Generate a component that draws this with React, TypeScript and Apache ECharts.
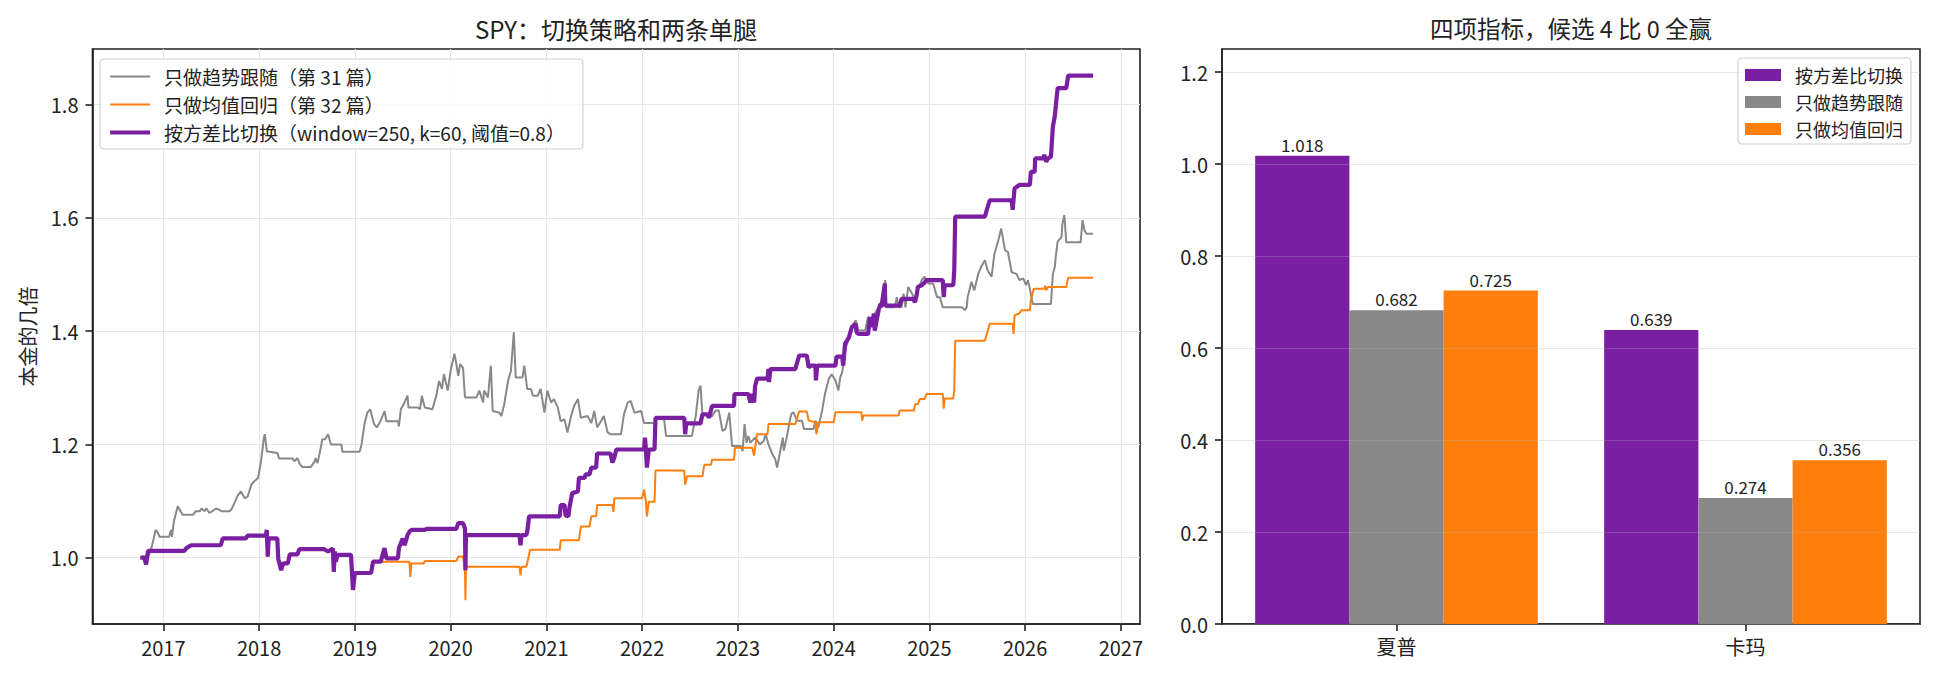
import React, { useEffect, useRef } from 'react';
import * as echarts from 'echarts';

const FONT = '"Noto Sans CJK SC", "Noto Sans", sans-serif';

// 左图：三条净值曲线 [年份, 本金倍数]
const trendCurve: [number, number][] = [
  [2016.76, 1.0], [2016.85, 1.005], [2016.88, 1.02], [2016.92, 1.049], [2016.94, 1.045], [2016.96, 1.037],
  [2017.06, 1.037], [2017.08, 1.049], [2017.09, 1.037], [2017.11, 1.064], [2017.15, 1.091], [2017.18, 1.082],
  [2017.2, 1.076], [2017.31, 1.076], [2017.34, 1.082], [2017.38, 1.082], [2017.4, 1.087], [2017.43, 1.082],
  [2017.45, 1.087], [2017.48, 1.079], [2017.51, 1.082], [2017.55, 1.087], [2017.58, 1.085], [2017.61, 1.082],
  [2017.69, 1.082], [2017.71, 1.085], [2017.74, 1.096], [2017.78, 1.111], [2017.81, 1.117], [2017.85, 1.105],
  [2017.88, 1.108], [2017.92, 1.129], [2017.95, 1.135], [2017.99, 1.141], [2018.02, 1.17], [2018.05, 1.212],
  [2018.06, 1.218], [2018.08, 1.188], [2018.19, 1.185], [2018.21, 1.175], [2018.35, 1.175], [2018.37, 1.17],
  [2018.4, 1.176], [2018.42, 1.167], [2018.45, 1.16], [2018.54, 1.16], [2018.58, 1.17], [2018.59, 1.176],
  [2018.61, 1.167], [2018.63, 1.182], [2018.66, 1.209], [2018.69, 1.209], [2018.72, 1.218], [2018.75, 1.2],
  [2018.86, 1.2], [2018.87, 1.187], [2019.05, 1.187], [2019.07, 1.2], [2019.1, 1.236], [2019.13, 1.256],
  [2019.16, 1.262], [2019.2, 1.236], [2019.23, 1.23], [2019.27, 1.242], [2019.31, 1.259], [2019.33, 1.241],
  [2019.45, 1.241], [2019.46, 1.232], [2019.48, 1.262], [2019.51, 1.271], [2019.55, 1.286], [2019.56, 1.265],
  [2019.66, 1.265], [2019.68, 1.262], [2019.7, 1.286], [2019.73, 1.265], [2019.81, 1.262], [2019.85, 1.286],
  [2019.88, 1.312], [2019.91, 1.298], [2019.93, 1.324], [2019.97, 1.295], [2020.0, 1.33], [2020.04, 1.36],
  [2020.06, 1.342], [2020.08, 1.321], [2020.1, 1.342], [2020.13, 1.335], [2020.15, 1.283], [2020.27, 1.283],
  [2020.3, 1.295], [2020.34, 1.274], [2020.35, 1.295], [2020.39, 1.283], [2020.42, 1.339], [2020.44, 1.259],
  [2020.51, 1.256], [2020.53, 1.25], [2020.56, 1.271], [2020.6, 1.312], [2020.63, 1.33], [2020.66, 1.398],
  [2020.68, 1.318], [2020.75, 1.318], [2020.77, 1.339], [2020.8, 1.298], [2020.84, 1.298], [2020.86, 1.286],
  [2020.91, 1.286], [2020.94, 1.298], [2020.98, 1.256], [2021.01, 1.295], [2021.05, 1.274], [2021.08, 1.28],
  [2021.12, 1.265], [2021.15, 1.241], [2021.19, 1.244], [2021.22, 1.221], [2021.26, 1.251], [2021.29, 1.268],
  [2021.33, 1.28], [2021.36, 1.247], [2021.43, 1.25], [2021.47, 1.238], [2021.5, 1.259], [2021.53, 1.23],
  [2021.57, 1.241], [2021.6, 1.25], [2021.64, 1.221], [2021.67, 1.218], [2021.78, 1.218], [2021.81, 1.253],
  [2021.85, 1.274], [2021.88, 1.277], [2021.92, 1.256], [2021.99, 1.259], [2022.02, 1.238], [2022.13, 1.238],
  [2022.16, 1.247], [2022.23, 1.244], [2022.25, 1.215], [2022.52, 1.215], [2022.56, 1.25], [2022.59, 1.295],
  [2022.61, 1.304], [2022.63, 1.253], [2022.68, 1.253], [2022.73, 1.25], [2022.77, 1.26], [2022.8, 1.26],
  [2022.84, 1.224], [2022.87, 1.227], [2022.91, 1.256], [2022.94, 1.197], [2023.03, 1.197], [2023.05, 1.188],
  [2023.07, 1.236], [2023.09, 1.203], [2023.11, 1.215], [2023.13, 1.203], [2023.18, 1.212], [2023.23, 1.2],
  [2023.27, 1.206], [2023.29, 1.218], [2023.32, 1.2], [2023.36, 1.183], [2023.39, 1.174], [2023.41, 1.159],
  [2023.45, 1.195], [2023.47, 1.212], [2023.48, 1.189], [2023.51, 1.212], [2023.53, 1.23], [2023.55, 1.248],
  [2023.56, 1.254], [2023.58, 1.257], [2023.62, 1.242], [2023.67, 1.242], [2023.69, 1.227], [2023.79, 1.227],
  [2023.81, 1.242], [2023.84, 1.23], [2023.88, 1.26], [2023.91, 1.289], [2023.95, 1.316], [2023.98, 1.324],
  [2024.02, 1.313], [2024.05, 1.295], [2024.07, 1.319], [2024.09, 1.327], [2024.12, 1.366], [2024.16, 1.389],
  [2024.19, 1.407], [2024.23, 1.419], [2024.26, 1.401], [2024.33, 1.401], [2024.36, 1.425], [2024.4, 1.419],
  [2024.43, 1.431], [2024.47, 1.442], [2024.5, 1.454], [2024.54, 1.49], [2024.55, 1.442], [2024.64, 1.442],
  [2024.66, 1.46], [2024.68, 1.442], [2024.71, 1.442], [2024.73, 1.466], [2024.75, 1.442], [2024.78, 1.478],
  [2024.82, 1.466], [2024.85, 1.454], [2024.88, 1.472], [2024.92, 1.49], [2024.95, 1.496], [2024.99, 1.484],
  [2025.04, 1.484], [2025.08, 1.46], [2025.11, 1.46], [2025.14, 1.442], [2025.34, 1.442], [2025.37, 1.437],
  [2025.39, 1.442], [2025.4, 1.46], [2025.44, 1.487], [2025.47, 1.472], [2025.51, 1.501], [2025.54, 1.513],
  [2025.58, 1.525], [2025.61, 1.507], [2025.65, 1.496], [2025.68, 1.537], [2025.72, 1.56], [2025.75, 1.581],
  [2025.79, 1.543], [2025.82, 1.54], [2025.86, 1.504], [2025.91, 1.501], [2025.94, 1.49], [2025.98, 1.493],
  [2026.01, 1.481], [2026.03, 1.49], [2026.06, 1.466], [2026.08, 1.448], [2026.27, 1.448], [2026.29, 1.501],
  [2026.31, 1.513], [2026.32, 1.531], [2026.34, 1.558], [2026.38, 1.566], [2026.39, 1.59], [2026.41, 1.605],
  [2026.43, 1.557], [2026.58, 1.557], [2026.6, 1.596], [2026.62, 1.578], [2026.64, 1.572], [2026.71, 1.572],
];

const switchCurve: [number, number][] = [
  [2016.76, 1.0], [2016.8, 1.0], [2016.82, 0.988], [2016.84, 1.012], [2017.22, 1.012], [2017.24, 1.017],
  [2017.29, 1.022], [2017.6, 1.022], [2017.62, 1.034], [2017.86, 1.034], [2017.88, 1.039], [2018.07, 1.039],
  [2018.08, 1.049], [2018.09, 1.002], [2018.1, 1.034], [2018.19, 1.034], [2018.2, 0.998], [2018.23, 0.978],
  [2018.25, 0.99], [2018.3, 0.99], [2018.32, 1.006], [2018.4, 1.006], [2018.42, 1.015], [2018.68, 1.015],
  [2018.72, 1.011], [2018.77, 1.016], [2018.78, 0.975], [2018.79, 1.011], [2018.8, 0.993], [2018.82, 1.005],
  [2018.96, 1.005], [2018.98, 0.943], [2019.0, 0.973], [2019.17, 0.973], [2019.19, 0.993], [2019.27, 0.993],
  [2019.31, 1.017], [2019.33, 0.999], [2019.45, 0.999], [2019.46, 1.017], [2019.5, 1.034], [2019.52, 1.022],
  [2019.55, 1.04], [2019.57, 1.046], [2019.59, 1.049], [2019.73, 1.049], [2019.75, 1.051], [2020.06, 1.051],
  [2020.08, 1.061], [2020.13, 1.061], [2020.15, 1.052], [2020.155, 0.978], [2020.16, 1.04], [2020.72, 1.04],
  [2020.73, 1.022], [2020.74, 1.04], [2020.79, 1.04], [2020.8, 1.046], [2020.82, 1.073], [2021.14, 1.073],
  [2021.15, 1.093], [2021.19, 1.093], [2021.2, 1.075], [2021.23, 1.073], [2021.24, 1.087], [2021.27, 1.114],
  [2021.33, 1.117], [2021.34, 1.141], [2021.4, 1.141], [2021.41, 1.147], [2021.45, 1.147], [2021.47, 1.159],
  [2021.52, 1.159], [2021.53, 1.184], [2021.67, 1.184], [2021.69, 1.168], [2021.71, 1.177], [2021.73, 1.191],
  [2022.02, 1.191], [2022.03, 1.212], [2022.04, 1.191], [2022.05, 1.159], [2022.07, 1.191], [2022.13, 1.191],
  [2022.14, 1.247], [2022.44, 1.247], [2022.45, 1.218], [2022.46, 1.237], [2022.61, 1.237], [2022.63, 1.253],
  [2022.68, 1.253], [2022.7, 1.247], [2022.73, 1.268], [2022.96, 1.268], [2022.965, 1.289], [2023.11, 1.289],
  [2023.13, 1.274], [2023.15, 1.289], [2023.17, 1.274], [2023.18, 1.303], [2023.2, 1.316], [2023.31, 1.316],
  [2023.32, 1.333], [2023.325, 1.31], [2023.34, 1.333], [2023.6, 1.333], [2023.64, 1.357], [2023.72, 1.357],
  [2023.74, 1.336], [2023.76, 1.339], [2023.81, 1.339], [2023.815, 1.313], [2023.83, 1.339], [2024.02, 1.339],
  [2024.03, 1.355], [2024.09, 1.355], [2024.1, 1.339], [2024.12, 1.378], [2024.16, 1.389], [2024.19, 1.407],
  [2024.23, 1.413], [2024.24, 1.398], [2024.26, 1.395], [2024.36, 1.395], [2024.38, 1.425], [2024.4, 1.407],
  [2024.42, 1.431], [2024.43, 1.401], [2024.45, 1.419], [2024.47, 1.437], [2024.49, 1.448], [2024.5, 1.442],
  [2024.52, 1.466], [2024.535, 1.484], [2024.54, 1.445], [2024.69, 1.445], [2024.71, 1.457], [2024.83, 1.457],
  [2024.85, 1.451], [2024.87, 1.466], [2024.88, 1.478], [2024.92, 1.481], [2024.94, 1.484], [2024.97, 1.49],
  [2025.14, 1.49], [2025.15, 1.46], [2025.16, 1.481], [2025.25, 1.481], [2025.26, 1.507], [2025.27, 1.602],
  [2025.58, 1.602], [2025.6, 1.614], [2025.63, 1.631], [2025.86, 1.631], [2025.87, 1.614], [2025.89, 1.652],
  [2025.94, 1.658], [2026.05, 1.658], [2026.06, 1.681], [2026.1, 1.681], [2026.105, 1.705], [2026.19, 1.705],
  [2026.2, 1.711], [2026.22, 1.699], [2026.24, 1.705], [2026.27, 1.708], [2026.29, 1.761], [2026.31, 1.779],
  [2026.32, 1.796], [2026.34, 1.829], [2026.43, 1.829], [2026.45, 1.851], [2026.71, 1.851],
];

// 2019.27 之前均值回归和切换策略走的是同一条线（被紫线盖住），之后的部分单独读
const meanRevLate: [number, number][] = [
  [2019.28, 0.993], [2019.57, 0.993], [2019.58, 0.966], [2019.59, 0.99], [2019.72, 0.99], [2019.73, 0.994],
  [2020.06, 0.994], [2020.08, 1.002], [2020.13, 1.002], [2020.15, 0.975], [2020.155, 0.925], [2020.16, 0.984],
  [2020.72, 0.984], [2020.73, 0.969], [2020.74, 0.984], [2020.79, 0.984], [2020.8, 0.99], [2020.83, 1.014],
  [2021.14, 1.014], [2021.15, 1.031], [2021.34, 1.031], [2021.36, 1.055], [2021.45, 1.055], [2021.47, 1.073],
  [2021.52, 1.073], [2021.53, 1.093], [2021.69, 1.093], [2021.7, 1.081], [2021.71, 1.105], [2022.0, 1.105],
  [2022.02, 1.12], [2022.04, 1.099], [2022.05, 1.073], [2022.07, 1.099], [2022.13, 1.099], [2022.14, 1.154],
  [2022.44, 1.154], [2022.45, 1.129], [2022.47, 1.144], [2022.63, 1.144], [2022.65, 1.164], [2022.72, 1.164],
  [2022.73, 1.173], [2022.96, 1.173], [2022.97, 1.194], [2023.15, 1.194], [2023.17, 1.18], [2023.18, 1.194],
  [2023.2, 1.218], [2023.31, 1.218], [2023.32, 1.236], [2023.6, 1.236], [2023.64, 1.258], [2023.72, 1.258],
  [2023.74, 1.242], [2023.81, 1.239], [2023.82, 1.218], [2023.84, 1.239], [2024.0, 1.239], [2024.02, 1.257],
  [2024.29, 1.257], [2024.3, 1.242], [2024.31, 1.251], [2024.68, 1.251], [2024.69, 1.26], [2024.84, 1.26],
  [2024.85, 1.271], [2024.88, 1.271], [2024.9, 1.28], [2024.95, 1.28], [2024.97, 1.289], [2025.14, 1.289],
  [2025.15, 1.263], [2025.16, 1.281], [2025.25, 1.281], [2025.26, 1.295], [2025.27, 1.383], [2025.58, 1.383],
  [2025.6, 1.395], [2025.63, 1.413], [2025.87, 1.413], [2025.88, 1.395], [2025.89, 1.428], [2025.94, 1.431],
  [2025.96, 1.437], [2026.05, 1.437], [2026.06, 1.454], [2026.09, 1.475], [2026.2, 1.475], [2026.21, 1.48],
  [2026.22, 1.472], [2026.24, 1.478], [2026.43, 1.478], [2026.45, 1.494], [2026.71, 1.494],
];
const meanRevCurve: [number, number][] = [
  ...switchCurve.filter((p) => p[0] <= 2019.27),
  ...meanRevLate,
];

const lineNames = [
  '只做趋势跟随（第 31 篇）',
  '只做均值回归（第 32 篇）',
  '按方差比切换（window=250, k=60, 阈值=0.8）',
];

// 刻度
const yearTicks = [2017, 2018, 2019, 2020, 2021, 2022, 2023, 2024, 2025, 2026, 2027];
const wealthTicks = [1.0, 1.2, 1.4, 1.6, 1.8];
const scoreTicks = [0.0, 0.2, 0.4, 0.6, 0.8, 1.0, 1.2];

// 右图：两项指标
const metricCats = ['夏普', '卡玛'];
const barNames = ['按方差比切换', '只做趋势跟随', '只做均值回归'];
const switchScores = [1.018, 0.639];
const trendScores = [0.682, 0.274];
const meanRevScores = [0.725, 0.356];

const PURPLE = '#7b1fa2';
const GRAY = '#888888';
const ORANGE = '#ff7f0e';
const INK = '#222';

const axisLine = { show: true, onZero: false, lineStyle: { color: INK, width: 1.6 } };
const tickStyle = { length: 7, lineStyle: { color: INK, width: 1.6 } };
const tickText = { color: INK, fontSize: 20, fontFamily: FONT };

const App: React.FC = () => {
  const chartRef = useRef<HTMLDivElement>(null);

  useEffect(() => {
    if (!chartRef.current) return;
    document.body.style.margin = '0';
    const chart = echarts.init(chartRef.current, null, { renderer: 'svg' });

    const barLabel = {
      show: true,
      position: 'top',
      distance: 3,
      fontSize: 17,
      color: INK,
      fontFamily: FONT,
      formatter: (p: any) => Number(p.value).toFixed(3),
    };

    const legendBox = {
      orient: 'vertical',
      backgroundColor: 'rgba(255,255,255,0.8)',
      borderColor: '#d0d0d0',
      borderWidth: 1.2,
      borderRadius: 4,
    };

    const option = {
      animation: false,
      textStyle: { fontFamily: FONT, color: INK },
      graphic: [
        {
          type: 'text',
          x: 616,
          y: 28,
          style: {
            text: 'SPY：切换策略和两条单腿',
            font: `24px ${FONT}`,
            fill: INK,
            textAlign: 'center',
            textVerticalAlign: 'middle',
          },
        },
        {
          type: 'text',
          x: 1571,
          y: 28,
          style: {
            text: '四项指标，候选 4 比 0 全赢',
            font: `23.5px ${FONT}`,
            fill: INK,
            textAlign: 'center',
            textVerticalAlign: 'middle',
          },
        },
      ],
      grid: [
        { left: 92.5, top: 49, width: 1047.5, height: 575, show: true, borderColor: INK, borderWidth: 1.6 },
        { left: 1222, top: 49, width: 698, height: 575, show: true, borderColor: INK, borderWidth: 1.6 },
      ],
      legend: [
        {
          ...legendBox,
          data: [
            { name: lineNames[0], lineStyle: { width: 2, color: GRAY } },
            { name: lineNames[1], lineStyle: { width: 2, color: ORANGE } },
            { name: lineNames[2], lineStyle: { width: 4.2, color: PURPLE } },
          ],
          left: 100,
          top: 59,
          itemWidth: 40,
          itemHeight: 14,
          itemGap: 9,
          padding: [8, 18, 7, 8],
          itemStyle: { opacity: 0, borderWidth: 0 },
          textStyle: { fontSize: 19, lineHeight: 19, color: INK, fontFamily: FONT, padding: [0, 0, 0, 9] },
        },
        {
          ...legendBox,
          data: barNames,
          right: 24,
          top: 58,
          icon: 'rect',
          itemWidth: 36,
          itemHeight: 12,
          itemGap: 9,
          padding: [8, 8, 6, 7],
          textStyle: { fontSize: 18, lineHeight: 18, color: INK, fontFamily: FONT, padding: [0, 0, 0, 9] },
        },
      ],
      xAxis: [
        {
          type: 'value',
          gridIndex: 0,
          min: 2016.26,
          max: 2027.2,
          splitNumber: 11,
          minInterval: 1,
          maxInterval: 1,
          axisLine,
          axisTick: { show: true, ...tickStyle, customValues: yearTicks },
          axisLabel: {
            ...tickText,
            margin: 13,
            customValues: yearTicks,
            formatter: (v: number) => String(Math.round(v)),
          },
          splitLine: { show: true, lineStyle: { color: '#e6e6e6', width: 1.2 } },
        },
        {
          type: 'category',
          gridIndex: 1,
          data: metricCats,
          axisLine,
          axisTick: { show: true, ...tickStyle, alignWithLabel: true },
          axisLabel: { ...tickText, margin: 12 },
          splitLine: { show: false },
        },
      ],
      yAxis: [
        {
          type: 'value',
          gridIndex: 0,
          min: 0.883,
          max: 1.898,
          splitNumber: 5,
          minInterval: 0.2,
          maxInterval: 0.2,
          name: '本金的几倍',
          nameLocation: 'middle',
          nameRotate: 90,
          nameGap: 55,
          nameTextStyle: { fontSize: 20, color: INK, fontFamily: FONT },
          axisLine,
          axisTick: { show: true, ...tickStyle, customValues: wealthTicks },
          axisLabel: {
            ...tickText,
            margin: 14,
            customValues: wealthTicks,
            formatter: (v: number) => v.toFixed(1),
          },
          splitLine: { show: true, lineStyle: { color: '#e6e6e6', width: 1.2 } },
        },
        {
          type: 'value',
          gridIndex: 1,
          min: 0,
          max: 1.25,
          interval: 0.2,
          z: 3,
          axisLine,
          axisTick: { show: true, ...tickStyle, customValues: scoreTicks },
          axisLabel: {
            ...tickText,
            margin: 14,
            customValues: scoreTicks,
            formatter: (v: number) => v.toFixed(1),
          },
          splitLine: { show: true, lineStyle: { color: 'rgba(176,176,176,0.3)', width: 1.2 } },
        },
      ],
      series: [
        {
          type: 'line',
          name: lineNames[0],
          xAxisIndex: 0,
          yAxisIndex: 0,
          data: trendCurve,
          symbol: 'none',
          z: 2,
          itemStyle: { color: GRAY },
          lineStyle: { color: GRAY, width: 2 },
        },
        {
          type: 'line',
          name: lineNames[1],
          xAxisIndex: 0,
          yAxisIndex: 0,
          data: meanRevCurve,
          symbol: 'none',
          z: 3,
          itemStyle: { color: ORANGE },
          lineStyle: { color: ORANGE, width: 2 },
        },
        {
          type: 'line',
          name: lineNames[2],
          xAxisIndex: 0,
          yAxisIndex: 0,
          data: switchCurve,
          symbol: 'none',
          z: 4,
          itemStyle: { color: PURPLE },
          lineStyle: { color: PURPLE, width: 4.2 },
        },
        {
          type: 'bar',
          name: barNames[0],
          xAxisIndex: 1,
          yAxisIndex: 1,
          data: switchScores,
          barWidth: '27%',
          barGap: '0%',
          itemStyle: { color: PURPLE },
          label: barLabel,
        },
        {
          type: 'bar',
          name: barNames[1],
          xAxisIndex: 1,
          yAxisIndex: 1,
          data: trendScores,
          barWidth: '27%',
          barGap: '0%',
          itemStyle: { color: GRAY },
          label: barLabel,
        },
        {
          type: 'bar',
          name: barNames[2],
          xAxisIndex: 1,
          yAxisIndex: 1,
          data: meanRevScores,
          barWidth: '27%',
          barGap: '0%',
          itemStyle: { color: ORANGE },
          label: barLabel,
        },
      ],
    };

    chart.setOption(option as any);

    return () => {
      chart.dispose();
    };
  }, []);

  return <div ref={chartRef} style={{ width: 1935, height: 675 }} />;
};

export default App;
